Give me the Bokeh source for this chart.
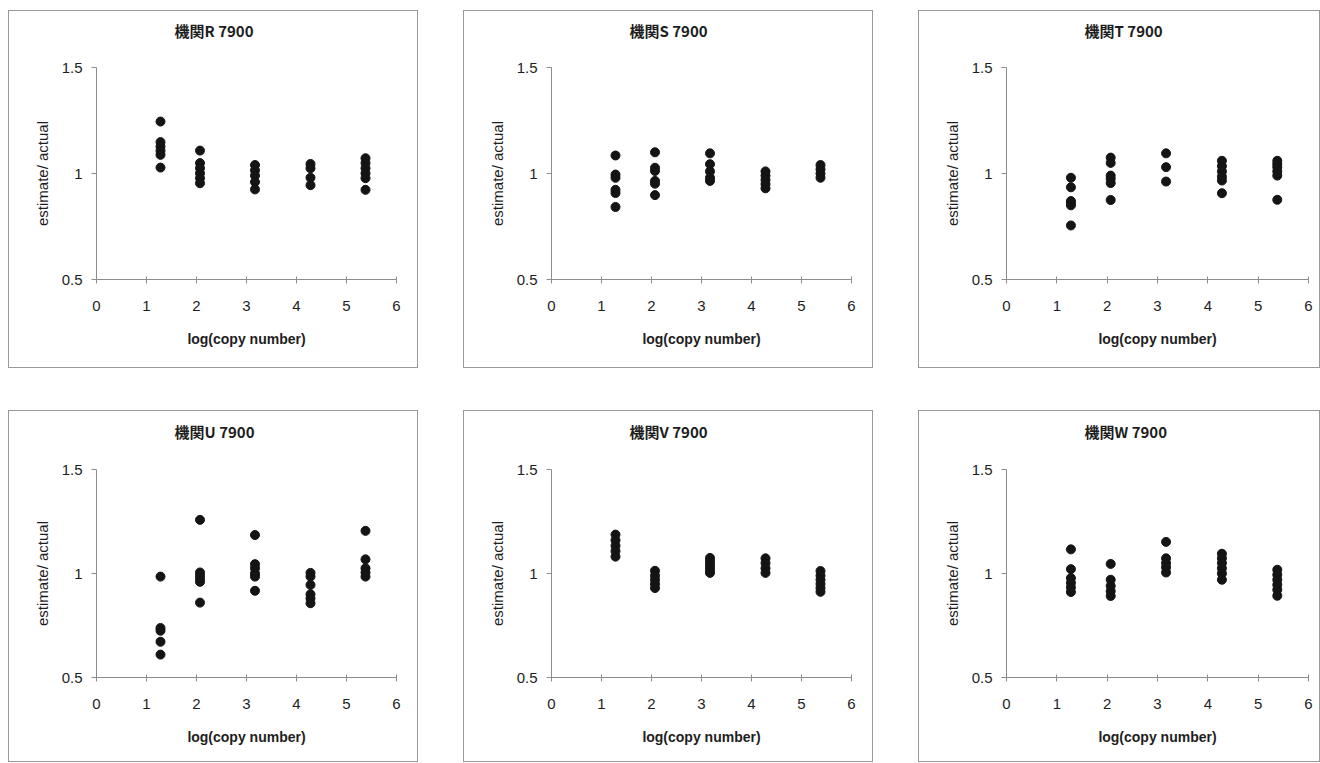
from bokeh.plotting import figure
from bokeh.layouts import row, column
from bokeh.models import FixedTicker
from bokeh.embed import file_html
from bokeh.resources import INLINE

# ---- data ----
x_positions = [1.28, 2.07, 3.17, 4.28, 5.38]
x_ticks = [0, 1, 2, 3, 4, 5, 6]
y_ticks = [0.5, 1.0, 1.5]
y_tick_labels = ["0.5", "1", "1.5"]

titles = ["機関R 7900", "機関S 7900", "機関T 7900", "機関U 7900", "機関V 7900", "機関W 7900"]
x_label = "log(copy number)"
y_label = "estimate/ actual"

lab_R = [
    [1.245, 1.148, 1.127, 1.107, 1.088, 1.028],
    [1.108, 1.049, 1.025, 1.001, 0.978, 0.954],
    [1.040, 1.015, 0.990, 0.960, 0.925],
    [1.045, 1.025, 0.980, 0.945],
    [1.072, 1.049, 1.025, 1.001, 0.978, 0.923],
]
lab_S = [
    [1.085, 0.995, 0.980, 0.923, 0.908, 0.842],
    [1.100, 1.027, 1.012, 0.965, 0.952, 0.898],
    [1.095, 1.044, 1.010, 0.980, 0.965],
    [1.010, 0.990, 0.970, 0.950, 0.930],
    [1.040, 1.020, 1.000, 0.980],
]
lab_T = [
    [0.980, 0.935, 0.870, 0.858, 0.850, 0.755],
    [1.075, 1.050, 0.990, 0.975, 0.955, 0.875],
    [1.095, 1.030, 0.962],
    [1.060, 1.035, 1.010, 0.985, 0.967, 0.907],
    [1.060, 1.045, 1.030, 1.010, 0.990, 0.876],
]
lab_U = [
    [0.985, 0.738, 0.725, 0.672, 0.610],
    [1.258, 1.005, 0.990, 0.975, 0.960, 0.860],
    [1.185, 1.045, 1.025, 1.000, 0.985, 0.917],
    [1.003, 0.985, 0.945, 0.900, 0.880, 0.857],
    [1.205, 1.068, 1.025, 1.005, 0.985],
]
lab_V = [
    [1.187, 1.160, 1.133, 1.108, 1.081],
    [1.013, 0.990, 0.970, 0.950, 0.930],
    [1.075, 1.060, 1.045, 1.030, 1.015, 1.003],
    [1.073, 1.050, 1.025, 1.003],
    [1.012, 0.990, 0.970, 0.950, 0.930, 0.912],
]
lab_W = [
    [1.116, 1.021, 0.978, 0.955, 0.933, 0.911],
    [1.046, 0.970, 0.940, 0.915, 0.892],
    [1.152, 1.073, 1.050, 1.030, 1.005],
    [1.095, 1.073, 1.050, 1.025, 1.000, 0.970],
    [1.018, 0.994, 0.970, 0.946, 0.922, 0.893],
]
labs = [lab_R, lab_S, lab_T, lab_U, lab_V, lab_W]

LATIN = "Liberation Sans"
CJK = "Noto Sans CJK JP"
AXIS_COLOR = "#8c8c8c"
TEXT_COLOR = "#1e1e1e"


def make_panel(title, groups, width, height, mb_top, mb_bottom, mb_right, title_standoff):
    p = figure(width=width, height=height, x_range=(0, 6), y_range=(0.5, 1.5),
               output_backend="svg", toolbar_location=None,
               min_border_left=87, min_border_right=mb_right,
               min_border_top=mb_top, min_border_bottom=mb_bottom,
               background_fill_color="white", border_fill_color="white",
               outline_line_color=None,
               styles={"border": "1px solid #9a9a9a"})
    p.grid.visible = False

    xs, ys = [], []
    for xv, vals in zip(x_positions, groups):
        for v in vals:
            xs.append(xv)
            ys.append(v)
    p.scatter(xs, ys, size=9, fill_color="#141414", line_color="#141414")

    xa = p.below[0]
    xa.ticker = FixedTicker(ticks=x_ticks)
    xa.axis_line_color = AXIS_COLOR
    xa.major_tick_line_color = AXIS_COLOR
    xa.major_tick_in = 3
    xa.major_tick_out = 4
    xa.minor_tick_line_color = None
    xa.major_label_standoff = 17
    xa.major_label_text_font = LATIN
    xa.major_label_text_font_size = "15px"
    xa.major_label_text_color = TEXT_COLOR
    xa.axis_label = x_label
    xa.axis_label_text_font = LATIN
    xa.axis_label_text_font_size = "14px"
    xa.axis_label_text_font_style = "bold"
    xa.axis_label_text_color = TEXT_COLOR
    xa.axis_label_standoff = 17

    ya = p.left[0]
    ya.ticker = FixedTicker(ticks=y_ticks)
    ya.major_label_overrides = {t: s for t, s in zip(y_ticks, y_tick_labels)}
    ya.axis_line_color = AXIS_COLOR
    ya.major_tick_line_color = AXIS_COLOR
    ya.major_tick_in = 0
    ya.major_tick_out = 5
    ya.minor_tick_line_color = None
    ya.major_label_standoff = 9
    ya.major_label_text_font = LATIN
    ya.major_label_text_font_size = "15px"
    ya.major_label_text_color = TEXT_COLOR
    ya.axis_label = y_label
    ya.axis_label_text_font = LATIN
    ya.axis_label_text_font_size = "15px"
    ya.axis_label_text_font_style = "normal"
    ya.axis_label_text_color = TEXT_COLOR
    ya.axis_label_standoff = 8

    # title: a trailing empty line lifts the visible line away from the frame
    p.title.text = title + "\n"
    p.title.align = "left"
    p.title.offset = 78
    p.title.standoff = title_standoff
    p.title.text_font = CJK
    p.title.text_font_size = "15px"
    p.title.text_font_style = "bold"
    p.title.text_color = TEXT_COLOR
    return p


panels = []
for i, (t, g) in enumerate(zip(titles, labs)):
    col = i % 3
    top_row = i < 3
    w = 410 if col < 2 else 402
    mr = 23 if col < 2 else 13
    if top_row:
        panels.append(make_panel(t, g, w, 358, 54, 90, mr, 12))
    else:
        panels.append(make_panel(t, g, w, 352, 56, 86, mr, 14))

layout = column(row(panels[:3], spacing=45), row(panels[3:], spacing=45), spacing=42,
                margin=(10, 0, 0, 8))

open("out.html", "w").write(file_html(layout, INLINE))
